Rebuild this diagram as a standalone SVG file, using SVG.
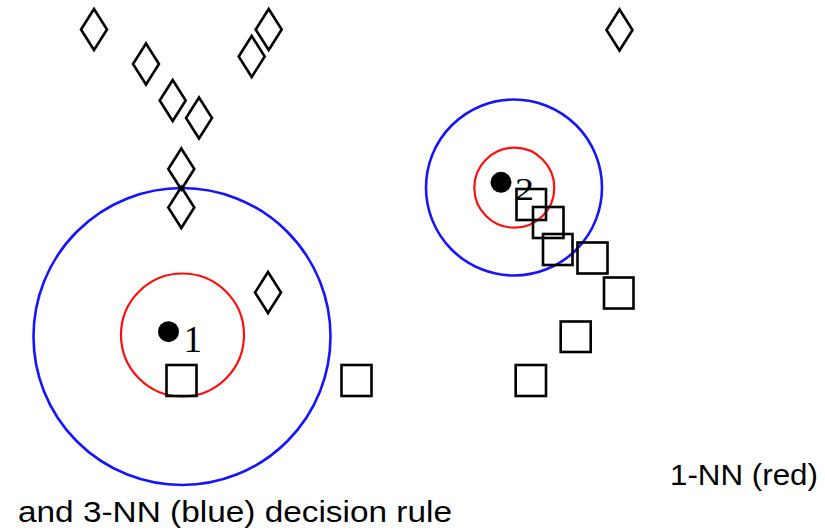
<svg xmlns="http://www.w3.org/2000/svg" xmlns:xlink="http://www.w3.org/1999/xlink" width="825" height="530" viewBox="0 0 825 530">
  <defs>
    <path id="diamond" d="M0,-20.5 L13,0 L0,20.5 L-13,0 Z"/>
    <style>
      .dia { fill: none; stroke: #000; stroke-width: 2.6; stroke-linejoin: miter; }
      .sq { fill: none; stroke: #000; stroke-width: 2.6; }
      .k1 { fill: none; stroke: #ff0d0d; stroke-width: 2.2; }
      .k3 { fill: none; stroke: #1414ff; stroke-width: 2.6; }
      .pt { fill: #000; }
      .num { font-family: "Liberation Serif", "DejaVu Serif", serif; fill: #000; }
      .cap { font-family: "Liberation Sans", Arial, sans-serif; font-size: 29px; fill: #000; }
    </style>
  </defs>
  <rect width="825" height="530" fill="#fff"/>

  <!-- neighbourhood circles: red = 1-NN, blue = 3-NN -->
  <g id="circles">
    <circle id="k3-query1" class="k3" cx="182" cy="336.5" r="148.5"/>
    <circle id="k1-query1" class="k1" cx="182.5" cy="335" r="61.5"/>
    <circle id="k3-query2" class="k3" cx="514" cy="187.5" r="88"/>
    <circle id="k1-query2" class="k1" cx="514.3" cy="187.7" r="40"/>
  </g>

  <!-- class A samples (diamonds) -->
  <g id="diamonds">
    <use id="d1" class="dia" xlink:href="#diamond" x="94" y="29.5"/>
    <use id="d2" class="dia" xlink:href="#diamond" x="146" y="64"/>
    <use id="d3" class="dia" xlink:href="#diamond" x="172.7" y="100.5"/>
    <use id="d4" class="dia" xlink:href="#diamond" x="199" y="118"/>
    <use id="d5" class="dia" xlink:href="#diamond" x="268.7" y="29.5"/>
    <use id="d6" class="dia" xlink:href="#diamond" x="251.7" y="56.5"/>
    <use id="d7" class="dia" xlink:href="#diamond" x="181.3" y="169"/>
    <use id="d8" class="dia" xlink:href="#diamond" x="181.3" y="207.5"/>
    <use id="d9" class="dia" xlink:href="#diamond" x="268" y="292.5"/>
    <use id="d10" class="dia" xlink:href="#diamond" x="619.5" y="30"/>
  </g>

  <!-- class B samples (squares) -->
  <g id="squares">
    <rect id="s1" class="sq" x="166.5" y="365" width="30" height="31"/>
    <rect id="s2" class="sq" x="341.5" y="365" width="30" height="31"/>
    <rect id="s3" class="sq" x="516.5" y="189" width="29.5" height="31"/>
    <rect id="s4" class="sq" x="533" y="207" width="30.5" height="31"/>
    <rect id="s5" class="sq" x="543" y="234" width="29.5" height="31"/>
    <rect id="s6" class="sq" x="577.5" y="242.5" width="30" height="31"/>
    <rect id="s7" class="sq" x="604" y="277.5" width="29.5" height="31"/>
    <rect id="s8" class="sq" x="560.7" y="321.5" width="30" height="30.5"/>
    <rect id="s9" class="sq" x="515.7" y="365" width="30.3" height="31"/>
  </g>

  <!-- query points -->
  <g id="query1">
    <circle class="pt" cx="168.5" cy="331.7" r="10.5"/>
    <text class="num" x="183.5" y="351.5" font-size="37">1</text>
  </g>
  <g id="query2">
    <circle class="pt" cx="501" cy="182.3" r="10.5"/>
    <text class="num" x="515" y="200" font-size="32" textLength="19" lengthAdjust="spacingAndGlyphs">2</text>
  </g>

  <!-- caption -->
  <g id="caption">
    <text class="cap" x="670" y="485" textLength="148" lengthAdjust="spacingAndGlyphs">1-NN (red)</text>
    <text class="cap" x="18" y="522" textLength="434" lengthAdjust="spacingAndGlyphs">and 3-NN (blue) decision rule</text>
  </g>
</svg>
